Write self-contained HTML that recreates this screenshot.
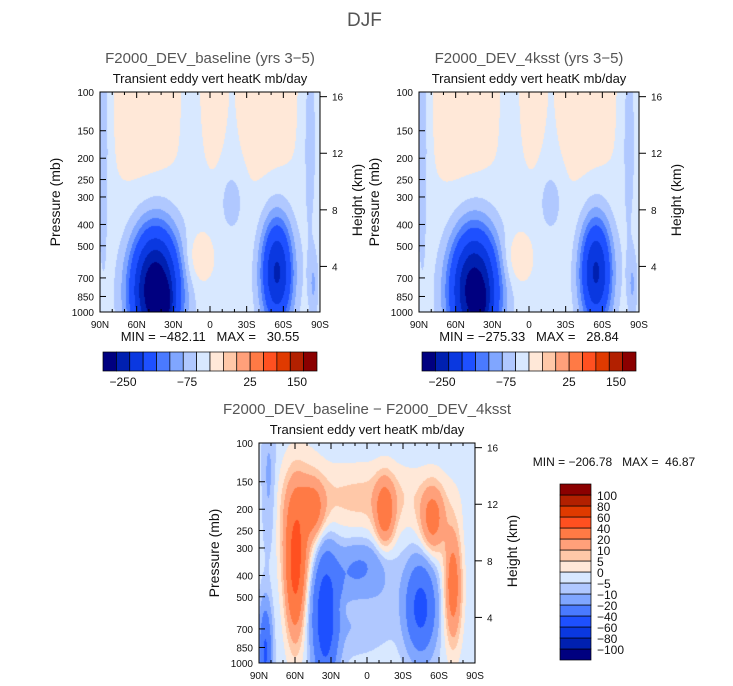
<!DOCTYPE html>
<html><head><meta charset="utf-8"><style>
body{margin:0;background:#fff;width:733px;height:686px;overflow:hidden;font-family:"Liberation Sans",sans-serif;position:relative}
.t{position:absolute;white-space:nowrap;color:#111}
canvas{position:absolute}
svg{position:absolute;left:0;top:0}
svg text{white-space:pre}
</style></head><body>
<div class="t" style="left:347px;top:10px;font-size:19px;color:#555">DJF</div>
<canvas id="c1" width="220" height="220" style="left:100px;top:92px"></canvas>
<canvas id="c2" width="220" height="220" style="left:419px;top:92px"></canvas>
<canvas id="c3" width="216" height="220" style="left:259px;top:443px"></canvas>
<svg id="ov" width="733" height="686"></svg>
<script>
const latTicks=["90N","60N","30N","0","30S","60S","90S"];
const presTicks=[100,150,200,250,300,400,500,700,850,1000];
const kmTicks=[4,8,12,16];
const topLevels=[-250,-200,-150,-100,-75,-50,-25,0,25,50,75,100,125,150,175];
const topBarLabels=["−250","−75","25","150"];
const diffLevels=[-100,-80,-60,-40,-20,-10,-5,0,5,10,20,40,60,80,100];
const colors=["#000080","#0020b0","#0a38e0","#1e50ff","#4a7aff","#80a6ff","#b0c8ff","#d8e8ff","#ffe8d8","#ffc8a8","#ffa07a","#ff7a45","#ff5020","#e03a00","#b22000","#8b0000"];
// blobs: [lat, z(log10(1000/p)), latWidth, zWidth, amplitude]
const baseBase=-10;
const baseBlobs=[[52,1.0,32,0.7,24],[-2,1.0,10,0.35,22],[-48,1.0,28,0.55,24],[10,0.24,12,0.12,35],[88,0.8,5,0.6,-40],[15,0.8,6,0.25,-12],[-82,0.8,6,0.5,-30],
 [45,0.1,20,0.28,-300],[40,0.04,6,0.08,-200],[-55,0.18,13,0.25,-200],[-18,0.5,8,0.12,-40],[-85,0.12,4,0.15,-40]];
const kBase=-10;
const kBlobs=[[52,1.0,32,0.7,24],[-2,1.0,10,0.35,22],[-48,1.0,28,0.55,24],[10,0.24,12,0.12,35],[88,0.8,5,0.6,-40],[15,0.8,6,0.25,-12],[-82,0.8,6,0.5,-30],
 [45,0.1,20,0.28,-280],[40,0.04,6,0.08,-60],[-55,0.18,13,0.25,-200],[-18,0.5,8,0.12,-40],[-85,0.12,4,0.15,-40]];
const diffBase=-3;
const diffBlobs=[[60,0.42,8,0.3,45],[55,0.6,18,0.3,15],[45,0.7,10,0.12,20],[-15,0.68,8,0.15,28],[-55,0.65,10,0.15,28],
 [-72,0.35,7,0.25,32],[0,0.75,60,0.15,10],[35,0.2,10,0.3,-50],[15,0.3,35,0.2,-12],[85,0.05,5,0.2,-40],[82,0.8,6,0.3,-10],
 [-45,0.25,12,0.2,-45],[5,0.45,20,0.1,-12],[10,0.25,20,0.06,8]];
function field(base,blobs,lat,z){let v=base;for(const b of blobs){const a=(lat-b[0])/b[2],c=(z-b[1])/b[3];v+=b[4]*Math.exp(-a*a-c*c);}return v;}
function lvl(levels,v){let i=0;while(i<levels.length&&v>=levels[i])i++;return i;}
function draw(id,base,blobs,levels){const cv=document.getElementById(id),ctx=cv.getContext('2d'),W=cv.width,H=cv.height;
 for(let y=0;y<H;y++)for(let x=0;x<W;x++){const lat=90-180*x/(W-1),z=1-y/(H-1);ctx.fillStyle=colors[lvl(levels,field(base,blobs,lat,z))];ctx.fillRect(x,y,1,1);}}
draw('c1',baseBase,baseBlobs,topLevels);draw('c2',kBase,kBlobs,topLevels);draw('c3',diffBase,diffBlobs,diffLevels);
const ov=document.getElementById('ov');const NS='http://www.w3.org/2000/svg';
function el(t,a,txt){const e=document.createElementNS(NS,t);for(const k in a)e.setAttribute(k,a[k]);if(txt!==undefined)e.textContent=txt;ov.appendChild(e);return e;}
function txt(x,y,s,size,anchor,name,col,rot){const e=el('text',{x:x,y:y,'font-size':size,'text-anchor':anchor||'middle',fill:col||'#111','font-family':'Liberation Sans, sans-serif'},s);
 if(rot)e.setAttribute('transform','rotate(-90 '+x+' '+y+')');
 
 return e;}
function panel(L,T,W,H,title,sub,p){
 const r=el('rect',{x:L,y:T,width:W,height:H,fill:'none',stroke:'#000','stroke-width':1});
 
 
 txt(L+W/2,T-29,title,15,'middle',p+'-title','#555');
 txt(L+W/2,T-9,sub,13,'middle',p+'-subtitle');
 latTicks.forEach((s,i)=>{const x=L+W*i/6;txt(x,T+H+16,s,10,'middle',p+'-x-tick-label');
  el('line',{x1:x,y1:T,x2:x,y2:T+6,stroke:'#000'});el('line',{x1:x,y1:T+H,x2:x,y2:T+H-6,stroke:'#000'});});
 for(let d=10;d<180;d+=10){if(d%30){const x=L+W*d/180;el('line',{x1:x,y1:T,x2:x,y2:T+3,stroke:'#000'});el('line',{x1:x,y1:T+H,x2:x,y2:T+H-3,stroke:'#000'});}}
 presTicks.forEach(pr=>{const y=T+H-H*Math.log10(1000/pr);txt(L-6,y+4,String(pr),10,'end',p+'-y-tick-label');el('line',{x1:L,y1:y,x2:L+6,y2:y,stroke:'#000'});});
 kmTicks.forEach(k=>{const y=T+H-H*(0.0643*k-0.05);txt(L+W+12,y+4,String(k),10,'start',p+'-km-tick-label');el('line',{x1:L+W,y1:y,x2:L+W+7,y2:y,stroke:'#000'});});
 txt(L-40,T+H/2,'Pressure (mb)',14,'middle',p+'-y-axis-title','#111',true);
 txt(L+W+42,T+H/2-2,'Height (km)',14,'middle',p+'-height-axis-title','#111',true);
}
panel(100,92,220,220,'F2000_DEV_baseline (yrs 3−5)','Transient eddy vert heatK mb/day','baseline');
panel(419,92,220,220,'F2000_DEV_4ksst (yrs 3−5)','Transient eddy vert heatK mb/day','ksst');
panel(259,443,216,220,'F2000_DEV_baseline − F2000_DEV_4ksst','Transient eddy vert heatK mb/day','diff');
txt(210,341,'MIN = −482.11   MAX =   30.55',13,'middle','baseline-min-max');
txt(529,341,'MIN = −275.33   MAX =   28.84',13,'middle','ksst-min-max');
txt(614,466,'MIN = −206.78   MAX =  46.87',12,'middle','diff-min-max');
const topBarLabelX=[123,187,250,297];
function hbar(L,p){const w=214/16;colors.forEach((c,i)=>{const r=el('rect',{x:L+i*w,y:352,width:w,height:19,fill:c,stroke:'#000','stroke-width':0.7});
 
 });
 topBarLabels.forEach((s,i)=>txt(L-103+topBarLabelX[i],386,s,12,'middle',p+'-colorbar-label'));}
hbar(103,'baseline');hbar(422,'ksst');
colors.forEach((c,i)=>{const y=660-(i+1)*11;const r=el('rect',{x:560,y:y,width:31,height:11,fill:c,stroke:'#000','stroke-width':0.7});
 
 });
diffLevels.forEach((v,i)=>{const y=660-(i+1)*11;txt(597,y+5,v<0?'−'+(-v):String(v),12,'start','diff-colorbar-label');});
</script>
</body></html>
